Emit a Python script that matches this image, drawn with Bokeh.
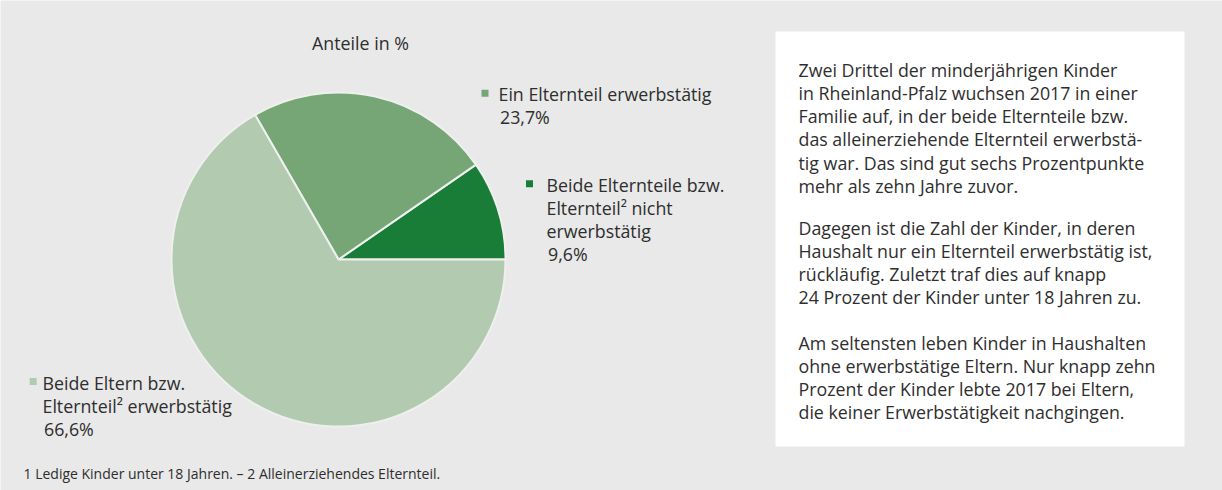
import numpy as np
from bokeh.plotting import figure
from bokeh.models import Range1d, BoxAnnotation
from bokeh.core.properties import value
from bokeh.embed import file_html
from bokeh.resources import INLINE

# ---- data ----
categories = ["Beide Elternteile bzw. Elternteil² nicht erwerbstätig",
              "Ein Elternteil erwerbstätig",
              "Beide Eltern bzw. Elternteil² erwerbstätig"]
shares = [9.6, 23.7, 66.6]
share_labels = ["9,6%", "23,7%", "66,6%"]
colors = ["#1a7d37", "#76a676", "#b2cab0"]
label_lines = [["Beide Elternteile bzw.", "Elternteil² nicht", "erwerbstätig"],
               ["Ein Elternteil erwerbstätig"],
               ["Beide Eltern bzw.", "Elternteil² erwerbstätig"]]
title_text = "Anteile in %"
footnote = "1 Ledige Kinder unter 18 Jahren.  –  2 Alleinerziehendes Elternteil."
paragraphs = [
    ["Zwei Drittel der minderjährigen Kinder",
     "in Rheinland-Pfalz wuchsen 2017 in einer",
     "Familie auf, in der beide Elternteile bzw.",
     "das alleinerziehende Elternteil erwerbstä-",
     "tig war. Das sind gut sechs Prozentpunkte",
     "mehr als zehn Jahre zuvor."],
    ["Dagegen ist die Zahl der Kinder, in deren",
     "Haushalt nur ein Elternteil erwerbstätig ist,",
     "rückläufig. Zuletzt traf dies auf knapp",
     "24 Prozent der Kinder unter 18 Jahren zu."],
    ["Am seltensten leben Kinder in Haushalten",
     "ohne erwerbstätige Eltern. Nur knapp zehn",
     "Prozent der Kinder lebte 2017 bei Eltern,",
     "die keiner Erwerbstätigkeit nachgingen."],
]

# ---- layout ----
W, H = 1222, 490
BG = "#e8e9e8"
TXT = "#2e2e2e"
FONT = "Open Sans"
FS = "17.8px"
TOFF = -6  # vertical text adjustment

def X(px):
    return px

def Y(py):
    return H - py

p = figure(width=W, height=H, x_range=Range1d(0, W), y_range=Range1d(0, H),
           output_backend="svg", toolbar_location=None,
           x_axis_type=None, y_axis_type=None, min_border=0)
p.background_fill_color = BG
p.border_fill_color = BG
p.outline_line_color = None
p.grid.visible = False

# pie
total = sum(shares)
frac = np.array(shares) / total
ends = np.cumsum(frac) * 2 * np.pi
starts = np.concatenate([[0], ends[:-1]])
cx, cy, r = X(338), Y(259), 167
p.wedge(x=cx, y=cy, radius=r, start_angle=list(starts), end_angle=list(ends),
        fill_color=colors, line_color="#eef0ee", line_width=2)

# title
p.text(x=[X(360)], y=[Y(48 + TOFF)], text=[title_text], text_font=value(FONT),
       text_font_size=FS, text_color=TXT, text_align="center", text_baseline="alphabetic")

# legend labels (square x, square y, text x, first baseline y)
legend_pos = [(529, 183.3, 546, 190), (484.5, 92.7, 498, 99.3), (32.7, 381, 42, 388)]
LH = 23.3
for i, (sx, sy, tx, ty) in enumerate(legend_pos):
    p.scatter(x=[X(sx)], y=[Y(sy)], marker="square", size=7,
              fill_color=colors[i], line_color=None)
    lines = label_lines[i] + [share_labels[i]]
    xs = [X(tx)] * len(lines)
    xs[-1] = X(tx + 1.5)
    ys = [Y(ty + TOFF + k * LH) for k in range(len(lines))]
    p.text(x=xs, y=ys, text=lines, text_font=value(FONT), text_font_size=FS,
           text_color=TXT, text_align="left", text_baseline="alphabetic")

# footnote
p.text(x=[X(23)], y=[Y(479 + TOFF)], text=[footnote], text_font=value(FONT),
       text_font_size="14px", text_color=TXT, text_align="left", text_baseline="alphabetic")

# text box
p.add_layout(BoxAnnotation(left=X(775), right=X(1184), top=Y(31), bottom=Y(446),
                           fill_color="white", fill_alpha=1, line_color=None, level="underlay"))
PLH = 23.3
para_starts = [75, 233, 348]
for pi, para in enumerate(paragraphs):
    ys = [Y(para_starts[pi] + TOFF + k * PLH) for k in range(len(para))]
    p.text(x=[X(798)] * len(para), y=ys, text=para, text_font=value(FONT),
           text_font_size=FS, text_color=TXT, text_align="left", text_baseline="alphabetic")

open("out.html", "w").write(file_html(p, INLINE))
